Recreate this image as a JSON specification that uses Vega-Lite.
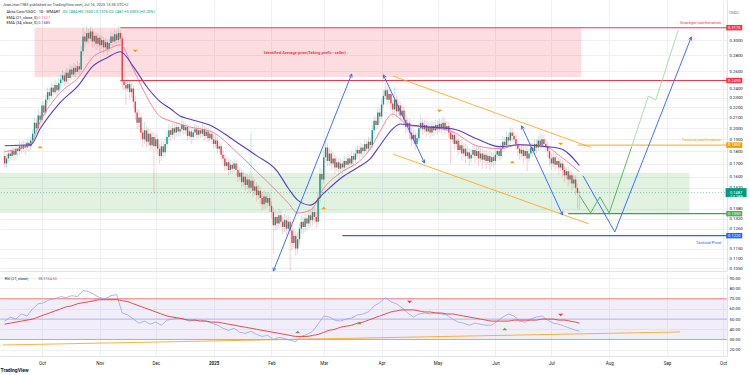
{
"$schema":"https://vega.github.io/schema/vega-lite/v6.json",
"padding":0,
"background":"#ffffff",
"spacing":1,
"config":{"view":{"stroke":null},"font":"Roboto"},
"datasets":{
"candles":[
{"t":"2024-09-11","o":0.176,"h":0.181,"l":0.167,"c":0.170},
{"t":"2024-09-12","o":0.170,"h":0.177,"l":0.166,"c":0.174},
{"t":"2024-09-13","o":0.174,"h":0.181,"l":0.171,"c":0.178},
{"t":"2024-09-14","o":0.178,"h":0.182,"l":0.172,"c":0.176},
{"t":"2024-09-15","o":0.176,"h":0.184,"l":0.173,"c":0.180},
{"t":"2024-09-16","o":0.180,"h":0.183,"l":0.172,"c":0.177},
{"t":"2024-09-17","o":0.177,"h":0.186,"l":0.174,"c":0.182},
{"t":"2024-09-18","o":0.182,"h":0.185,"l":0.175,"c":0.180},
{"t":"2024-09-19","o":0.180,"h":0.189,"l":0.177,"c":0.184},
{"t":"2024-09-20","o":0.184,"h":0.188,"l":0.178,"c":0.182},
{"t":"2024-09-21","o":0.182,"h":0.189,"l":0.179,"c":0.185},
{"t":"2024-09-22","o":0.185,"h":0.188,"l":0.177,"c":0.183},
{"t":"2024-09-23","o":0.183,"h":0.191,"l":0.180,"c":0.187},
{"t":"2024-09-24","o":0.187,"h":0.190,"l":0.179,"c":0.184},
{"t":"2024-09-25","o":0.184,"h":0.192,"l":0.181,"c":0.189},
{"t":"2024-09-26","o":0.189,"h":0.199,"l":0.186,"c":0.195},
{"t":"2024-09-27","o":0.195,"h":0.210,"l":0.192,"c":0.205},
{"t":"2024-09-28","o":0.205,"h":0.209,"l":0.196,"c":0.200},
{"t":"2024-09-29","o":0.200,"h":0.218,"l":0.198,"c":0.212},
{"t":"2024-09-30","o":0.212,"h":0.216,"l":0.201,"c":0.208},
{"t":"2024-10-01","o":0.208,"h":0.226,"l":0.205,"c":0.222},
{"t":"2024-10-02","o":0.222,"h":0.226,"l":0.210,"c":0.215},
{"t":"2024-10-03","o":0.215,"h":0.233,"l":0.212,"c":0.228},
{"t":"2024-10-04","o":0.228,"h":0.241,"l":0.224,"c":0.236},
{"t":"2024-10-05","o":0.236,"h":0.240,"l":0.226,"c":0.232},
{"t":"2024-10-06","o":0.232,"h":0.247,"l":0.229,"c":0.241},
{"t":"2024-10-07","o":0.241,"h":0.245,"l":0.230,"c":0.236},
{"t":"2024-10-08","o":0.236,"h":0.250,"l":0.233,"c":0.244},
{"t":"2024-10-09","o":0.244,"h":0.248,"l":0.232,"c":0.238},
{"t":"2024-10-10","o":0.238,"h":0.252,"l":0.235,"c":0.246},
{"t":"2024-10-11","o":0.246,"h":0.256,"l":0.240,"c":0.250},
{"t":"2024-10-12","o":0.250,"h":0.261,"l":0.246,"c":0.255},
{"t":"2024-10-13","o":0.255,"h":0.259,"l":0.243,"c":0.248},
{"t":"2024-10-14","o":0.248,"h":0.264,"l":0.245,"c":0.258},
{"t":"2024-10-15","o":0.258,"h":0.262,"l":0.245,"c":0.252},
{"t":"2024-10-16","o":0.252,"h":0.268,"l":0.249,"c":0.262},
{"t":"2024-10-17","o":0.262,"h":0.266,"l":0.250,"c":0.256},
{"t":"2024-10-18","o":0.256,"h":0.270,"l":0.253,"c":0.264},
{"t":"2024-10-19","o":0.264,"h":0.268,"l":0.252,"c":0.259},
{"t":"2024-10-20","o":0.259,"h":0.272,"l":0.256,"c":0.266},
{"t":"2024-10-21","o":0.266,"h":0.270,"l":0.255,"c":0.262},
{"t":"2024-10-22","o":0.262,"h":0.292,"l":0.259,"c":0.285},
{"t":"2024-10-23","o":0.285,"h":0.318,"l":0.280,"c":0.305},
{"t":"2024-10-24","o":0.305,"h":0.312,"l":0.290,"c":0.298},
{"t":"2024-10-25","o":0.298,"h":0.320,"l":0.294,"c":0.310},
{"t":"2024-10-26","o":0.310,"h":0.316,"l":0.295,"c":0.302},
{"t":"2024-10-27","o":0.302,"h":0.319,"l":0.298,"c":0.312},
{"t":"2024-10-28","o":0.312,"h":0.316,"l":0.290,"c":0.298},
{"t":"2024-10-29","o":0.298,"h":0.312,"l":0.292,"c":0.306},
{"t":"2024-10-30","o":0.306,"h":0.310,"l":0.287,"c":0.295},
{"t":"2024-10-31","o":0.295,"h":0.309,"l":0.290,"c":0.303},
{"t":"2024-11-01","o":0.303,"h":0.307,"l":0.284,"c":0.293},
{"t":"2024-11-02","o":0.293,"h":0.306,"l":0.288,"c":0.300},
{"t":"2024-11-03","o":0.300,"h":0.304,"l":0.282,"c":0.290},
{"t":"2024-11-04","o":0.290,"h":0.303,"l":0.285,"c":0.297},
{"t":"2024-11-05","o":0.297,"h":0.301,"l":0.280,"c":0.288},
{"t":"2024-11-06","o":0.288,"h":0.302,"l":0.284,"c":0.296},
{"t":"2024-11-07","o":0.296,"h":0.312,"l":0.292,"c":0.305},
{"t":"2024-11-08","o":0.305,"h":0.310,"l":0.291,"c":0.298},
{"t":"2024-11-09","o":0.298,"h":0.315,"l":0.294,"c":0.308},
{"t":"2024-11-10","o":0.308,"h":0.313,"l":0.294,"c":0.300},
{"t":"2024-11-11","o":0.300,"h":0.318,"l":0.296,"c":0.310},
{"t":"2024-11-12","o":0.310,"h":0.314,"l":0.296,"c":0.302},
{"t":"2024-11-13","o":0.302,"h":0.306,"l":0.240,"c":0.248},
{"t":"2024-11-14","o":0.248,"h":0.256,"l":0.238,"c":0.244},
{"t":"2024-11-15","o":0.244,"h":0.250,"l":0.222,"c":0.240},
{"t":"2024-11-16","o":0.240,"h":0.252,"l":0.236,"c":0.245},
{"t":"2024-11-17","o":0.245,"h":0.249,"l":0.228,"c":0.236},
{"t":"2024-11-18","o":0.236,"h":0.246,"l":0.230,"c":0.240},
{"t":"2024-11-19","o":0.240,"h":0.244,"l":0.220,"c":0.226},
{"t":"2024-11-20","o":0.226,"h":0.232,"l":0.208,"c":0.215},
{"t":"2024-11-21","o":0.215,"h":0.219,"l":0.199,"c":0.205},
{"t":"2024-11-22","o":0.205,"h":0.218,"l":0.201,"c":0.210},
{"t":"2024-11-23","o":0.210,"h":0.214,"l":0.190,"c":0.196},
{"t":"2024-11-24","o":0.196,"h":0.200,"l":0.183,"c":0.190},
{"t":"2024-11-25","o":0.190,"h":0.206,"l":0.186,"c":0.198},
{"t":"2024-11-26","o":0.198,"h":0.202,"l":0.183,"c":0.188},
{"t":"2024-11-27","o":0.188,"h":0.200,"l":0.184,"c":0.195},
{"t":"2024-11-28","o":0.195,"h":0.199,"l":0.180,"c":0.185},
{"t":"2024-11-29","o":0.185,"h":0.197,"l":0.181,"c":0.192},
{"t":"2024-11-30","o":0.192,"h":0.196,"l":0.148,"c":0.184},
{"t":"2024-12-01","o":0.184,"h":0.195,"l":0.180,"c":0.190},
{"t":"2024-12-02","o":0.190,"h":0.194,"l":0.177,"c":0.182},
{"t":"2024-12-03","o":0.182,"h":0.186,"l":0.170,"c":0.176},
{"t":"2024-12-04","o":0.176,"h":0.190,"l":0.172,"c":0.184},
{"t":"2024-12-05","o":0.184,"h":0.188,"l":0.175,"c":0.179},
{"t":"2024-12-06","o":0.179,"h":0.191,"l":0.176,"c":0.186},
{"t":"2024-12-07","o":0.186,"h":0.197,"l":0.183,"c":0.192},
{"t":"2024-12-08","o":0.192,"h":0.203,"l":0.189,"c":0.198},
{"t":"2024-12-09","o":0.198,"h":0.202,"l":0.189,"c":0.194},
{"t":"2024-12-10","o":0.194,"h":0.205,"l":0.191,"c":0.200},
{"t":"2024-12-11","o":0.200,"h":0.204,"l":0.190,"c":0.196},
{"t":"2024-12-12","o":0.196,"h":0.206,"l":0.193,"c":0.201},
{"t":"2024-12-13","o":0.201,"h":0.205,"l":0.192,"c":0.197},
{"t":"2024-12-14","o":0.197,"h":0.203,"l":0.193,"c":0.199},
{"t":"2024-12-15","o":0.199,"h":0.209,"l":0.196,"c":0.203},
{"t":"2024-12-16","o":0.203,"h":0.207,"l":0.194,"c":0.198},
{"t":"2024-12-17","o":0.198,"h":0.205,"l":0.195,"c":0.201},
{"t":"2024-12-18","o":0.201,"h":0.204,"l":0.189,"c":0.193},
{"t":"2024-12-19","o":0.193,"h":0.201,"l":0.190,"c":0.197},
{"t":"2024-12-20","o":0.197,"h":0.200,"l":0.186,"c":0.192},
{"t":"2024-12-21","o":0.192,"h":0.200,"l":0.189,"c":0.196},
{"t":"2024-12-22","o":0.196,"h":0.204,"l":0.193,"c":0.199},
{"t":"2024-12-23","o":0.199,"h":0.203,"l":0.190,"c":0.194},
{"t":"2024-12-24","o":0.194,"h":0.202,"l":0.191,"c":0.198},
{"t":"2024-12-25","o":0.198,"h":0.201,"l":0.191,"c":0.195},
{"t":"2024-12-26","o":0.195,"h":0.204,"l":0.192,"c":0.199},
{"t":"2024-12-27","o":0.199,"h":0.202,"l":0.189,"c":0.193},
{"t":"2024-12-28","o":0.193,"h":0.201,"l":0.190,"c":0.197},
{"t":"2024-12-29","o":0.197,"h":0.200,"l":0.187,"c":0.191},
{"t":"2024-12-30","o":0.191,"h":0.199,"l":0.188,"c":0.195},
{"t":"2024-12-31","o":0.195,"h":0.198,"l":0.186,"c":0.190},
{"t":"2025-01-01","o":0.190,"h":0.193,"l":0.182,"c":0.186},
{"t":"2025-01-02","o":0.186,"h":0.194,"l":0.183,"c":0.189},
{"t":"2025-01-03","o":0.189,"h":0.192,"l":0.178,"c":0.182},
{"t":"2025-01-04","o":0.182,"h":0.188,"l":0.179,"c":0.184},
{"t":"2025-01-05","o":0.184,"h":0.187,"l":0.173,"c":0.177},
{"t":"2025-01-06","o":0.177,"h":0.181,"l":0.170,"c":0.174},
{"t":"2025-01-07","o":0.174,"h":0.177,"l":0.164,"c":0.168},
{"t":"2025-01-08","o":0.168,"h":0.175,"l":0.165,"c":0.171},
{"t":"2025-01-09","o":0.171,"h":0.174,"l":0.161,"c":0.165},
{"t":"2025-01-10","o":0.165,"h":0.173,"l":0.162,"c":0.169},
{"t":"2025-01-11","o":0.169,"h":0.172,"l":0.162,"c":0.166},
{"t":"2025-01-12","o":0.166,"h":0.174,"l":0.163,"c":0.170},
{"t":"2025-01-13","o":0.170,"h":0.173,"l":0.161,"c":0.165},
{"t":"2025-01-14","o":0.165,"h":0.168,"l":0.156,"c":0.160},
{"t":"2025-01-15","o":0.160,"h":0.167,"l":0.157,"c":0.163},
{"t":"2025-01-16","o":0.163,"h":0.166,"l":0.152,"c":0.156},
{"t":"2025-01-17","o":0.156,"h":0.164,"l":0.153,"c":0.160},
{"t":"2025-01-18","o":0.160,"h":0.163,"l":0.150,"c":0.154},
{"t":"2025-01-19","o":0.154,"h":0.162,"l":0.151,"c":0.158},
{"t":"2025-01-20","o":0.158,"h":0.161,"l":0.148,"c":0.152},
{"t":"2025-01-21","o":0.152,"h":0.196,"l":0.149,"c":0.157},
{"t":"2025-01-22","o":0.157,"h":0.160,"l":0.146,"c":0.150},
{"t":"2025-01-23","o":0.150,"h":0.158,"l":0.147,"c":0.153},
{"t":"2025-01-24","o":0.153,"h":0.156,"l":0.143,"c":0.147},
{"t":"2025-01-25","o":0.147,"h":0.154,"l":0.144,"c":0.150},
{"t":"2025-01-26","o":0.150,"h":0.153,"l":0.141,"c":0.145},
{"t":"2025-01-27","o":0.145,"h":0.148,"l":0.137,"c":0.141},
{"t":"2025-01-28","o":0.141,"h":0.150,"l":0.138,"c":0.146},
{"t":"2025-01-29","o":0.146,"h":0.149,"l":0.138,"c":0.142},
{"t":"2025-01-30","o":0.142,"h":0.149,"l":0.139,"c":0.145},
{"t":"2025-01-31","o":0.145,"h":0.148,"l":0.136,"c":0.140},
{"t":"2025-02-01","o":0.140,"h":0.143,"l":0.132,"c":0.136},
{"t":"2025-02-02","o":0.136,"h":0.139,"l":0.112,"c":0.128},
{"t":"2025-02-03","o":0.128,"h":0.137,"l":0.125,"c":0.133},
{"t":"2025-02-04","o":0.133,"h":0.136,"l":0.125,"c":0.129},
{"t":"2025-02-05","o":0.129,"h":0.138,"l":0.126,"c":0.134},
{"t":"2025-02-06","o":0.134,"h":0.137,"l":0.127,"c":0.130},
{"t":"2025-02-07","o":0.130,"h":0.133,"l":0.123,"c":0.127},
{"t":"2025-02-08","o":0.127,"h":0.135,"l":0.124,"c":0.131},
{"t":"2025-02-09","o":0.131,"h":0.134,"l":0.122,"c":0.126},
{"t":"2025-02-10","o":0.126,"h":0.134,"l":0.123,"c":0.130},
{"t":"2025-02-11","o":0.130,"h":0.133,"l":0.104,"c":0.125},
{"t":"2025-02-12","o":0.125,"h":0.128,"l":0.114,"c":0.118},
{"t":"2025-02-13","o":0.118,"h":0.126,"l":0.115,"c":0.122},
{"t":"2025-02-14","o":0.122,"h":0.125,"l":0.111,"c":0.115},
{"t":"2025-02-15","o":0.115,"h":0.124,"l":0.112,"c":0.120},
{"t":"2025-02-16","o":0.120,"h":0.129,"l":0.117,"c":0.126},
{"t":"2025-02-17","o":0.126,"h":0.134,"l":0.123,"c":0.130},
{"t":"2025-02-18","o":0.130,"h":0.133,"l":0.123,"c":0.127},
{"t":"2025-02-19","o":0.127,"h":0.135,"l":0.124,"c":0.132},
{"t":"2025-02-20","o":0.132,"h":0.135,"l":0.125,"c":0.129},
{"t":"2025-02-21","o":0.129,"h":0.137,"l":0.126,"c":0.134},
{"t":"2025-02-22","o":0.134,"h":0.137,"l":0.127,"c":0.131},
{"t":"2025-02-23","o":0.131,"h":0.139,"l":0.128,"c":0.136},
{"t":"2025-02-24","o":0.136,"h":0.139,"l":0.129,"c":0.133},
{"t":"2025-02-25","o":0.133,"h":0.136,"l":0.126,"c":0.130},
{"t":"2025-02-26","o":0.130,"h":0.149,"l":0.128,"c":0.145},
{"t":"2025-02-27","o":0.145,"h":0.167,"l":0.142,"c":0.162},
{"t":"2025-02-28","o":0.162,"h":0.166,"l":0.150,"c":0.158},
{"t":"2025-03-01","o":0.158,"h":0.181,"l":0.155,"c":0.175},
{"t":"2025-03-02","o":0.175,"h":0.190,"l":0.171,"c":0.183},
{"t":"2025-03-03","o":0.183,"h":0.187,"l":0.168,"c":0.172},
{"t":"2025-03-04","o":0.172,"h":0.183,"l":0.168,"c":0.178},
{"t":"2025-03-05","o":0.178,"h":0.181,"l":0.165,"c":0.170},
{"t":"2025-03-06","o":0.170,"h":0.179,"l":0.166,"c":0.174},
{"t":"2025-03-07","o":0.174,"h":0.177,"l":0.162,"c":0.167},
{"t":"2025-03-08","o":0.167,"h":0.175,"l":0.164,"c":0.171},
{"t":"2025-03-09","o":0.171,"h":0.174,"l":0.161,"c":0.166},
{"t":"2025-03-10","o":0.166,"h":0.174,"l":0.163,"c":0.170},
{"t":"2025-03-11","o":0.170,"h":0.173,"l":0.162,"c":0.167},
{"t":"2025-03-12","o":0.167,"h":0.176,"l":0.164,"c":0.172},
{"t":"2025-03-13","o":0.172,"h":0.175,"l":0.164,"c":0.169},
{"t":"2025-03-14","o":0.169,"h":0.178,"l":0.166,"c":0.174},
{"t":"2025-03-15","o":0.174,"h":0.177,"l":0.166,"c":0.170},
{"t":"2025-03-16","o":0.170,"h":0.180,"l":0.167,"c":0.176},
{"t":"2025-03-17","o":0.176,"h":0.179,"l":0.169,"c":0.173},
{"t":"2025-03-18","o":0.173,"h":0.182,"l":0.170,"c":0.178},
{"t":"2025-03-19","o":0.178,"h":0.185,"l":0.175,"c":0.181},
{"t":"2025-03-20","o":0.181,"h":0.184,"l":0.173,"c":0.178},
{"t":"2025-03-21","o":0.178,"h":0.187,"l":0.175,"c":0.183},
{"t":"2025-03-22","o":0.183,"h":0.186,"l":0.175,"c":0.180},
{"t":"2025-03-23","o":0.180,"h":0.190,"l":0.177,"c":0.186},
{"t":"2025-03-24","o":0.186,"h":0.189,"l":0.178,"c":0.182},
{"t":"2025-03-25","o":0.182,"h":0.192,"l":0.179,"c":0.188},
{"t":"2025-03-26","o":0.188,"h":0.191,"l":0.180,"c":0.185},
{"t":"2025-03-27","o":0.185,"h":0.203,"l":0.182,"c":0.198},
{"t":"2025-03-28","o":0.198,"h":0.212,"l":0.195,"c":0.207},
{"t":"2025-03-29","o":0.207,"h":0.211,"l":0.198,"c":0.203},
{"t":"2025-03-30","o":0.203,"h":0.220,"l":0.200,"c":0.215},
{"t":"2025-03-31","o":0.215,"h":0.219,"l":0.205,"c":0.211},
{"t":"2025-04-01","o":0.211,"h":0.229,"l":0.208,"c":0.223},
{"t":"2025-04-02","o":0.223,"h":0.238,"l":0.219,"c":0.232},
{"t":"2025-04-03","o":0.232,"h":0.246,"l":0.228,"c":0.238},
{"t":"2025-04-04","o":0.238,"h":0.242,"l":0.222,"c":0.228},
{"t":"2025-04-05","o":0.228,"h":0.240,"l":0.224,"c":0.234},
{"t":"2025-04-06","o":0.234,"h":0.238,"l":0.218,"c":0.224},
{"t":"2025-04-07","o":0.224,"h":0.228,"l":0.210,"c":0.218},
{"t":"2025-04-08","o":0.218,"h":0.242,"l":0.214,"c":0.228},
{"t":"2025-04-09","o":0.228,"h":0.232,"l":0.210,"c":0.216},
{"t":"2025-04-10","o":0.216,"h":0.228,"l":0.212,"c":0.222},
{"t":"2025-04-11","o":0.222,"h":0.226,"l":0.206,"c":0.212},
{"t":"2025-04-12","o":0.212,"h":0.222,"l":0.208,"c":0.217},
{"t":"2025-04-13","o":0.217,"h":0.221,"l":0.202,"c":0.208},
{"t":"2025-04-14","o":0.208,"h":0.212,"l":0.195,"c":0.201},
{"t":"2025-04-15","o":0.201,"h":0.210,"l":0.197,"c":0.205},
{"t":"2025-04-16","o":0.205,"h":0.209,"l":0.190,"c":0.196},
{"t":"2025-04-17","o":0.196,"h":0.200,"l":0.184,"c":0.190},
{"t":"2025-04-18","o":0.190,"h":0.199,"l":0.186,"c":0.194},
{"t":"2025-04-19","o":0.194,"h":0.198,"l":0.181,"c":0.186},
{"t":"2025-04-20","o":0.186,"h":0.196,"l":0.183,"c":0.191},
{"t":"2025-04-21","o":0.191,"h":0.205,"l":0.188,"c":0.200},
{"t":"2025-04-22","o":0.200,"h":0.212,"l":0.197,"c":0.205},
{"t":"2025-04-23","o":0.205,"h":0.209,"l":0.194,"c":0.199},
{"t":"2025-04-24","o":0.199,"h":0.208,"l":0.196,"c":0.203},
{"t":"2025-04-25","o":0.203,"h":0.207,"l":0.192,"c":0.197},
{"t":"2025-04-26","o":0.197,"h":0.206,"l":0.194,"c":0.201},
{"t":"2025-04-27","o":0.201,"h":0.205,"l":0.191,"c":0.196},
{"t":"2025-04-28","o":0.196,"h":0.207,"l":0.193,"c":0.202},
{"t":"2025-04-29","o":0.202,"h":0.206,"l":0.193,"c":0.198},
{"t":"2025-04-30","o":0.198,"h":0.208,"l":0.195,"c":0.203},
{"t":"2025-05-01","o":0.203,"h":0.207,"l":0.194,"c":0.199},
{"t":"2025-05-02","o":0.199,"h":0.209,"l":0.196,"c":0.204},
{"t":"2025-05-03","o":0.204,"h":0.208,"l":0.195,"c":0.200},
{"t":"2025-05-04","o":0.200,"h":0.211,"l":0.197,"c":0.205},
{"t":"2025-05-05","o":0.205,"h":0.209,"l":0.194,"c":0.199},
{"t":"2025-05-06","o":0.199,"h":0.207,"l":0.196,"c":0.202},
{"t":"2025-05-07","o":0.202,"h":0.206,"l":0.191,"c":0.196},
{"t":"2025-05-08","o":0.196,"h":0.200,"l":0.170,"c":0.190},
{"t":"2025-05-09","o":0.190,"h":0.199,"l":0.187,"c":0.194},
{"t":"2025-05-10","o":0.194,"h":0.198,"l":0.181,"c":0.186},
{"t":"2025-05-11","o":0.186,"h":0.194,"l":0.183,"c":0.189},
{"t":"2025-05-12","o":0.189,"h":0.193,"l":0.176,"c":0.181},
{"t":"2025-05-13","o":0.181,"h":0.190,"l":0.178,"c":0.185},
{"t":"2025-05-14","o":0.185,"h":0.189,"l":0.172,"c":0.178},
{"t":"2025-05-15","o":0.178,"h":0.187,"l":0.175,"c":0.182},
{"t":"2025-05-16","o":0.182,"h":0.186,"l":0.170,"c":0.176},
{"t":"2025-05-17","o":0.176,"h":0.184,"l":0.173,"c":0.179},
{"t":"2025-05-18","o":0.179,"h":0.183,"l":0.168,"c":0.174},
{"t":"2025-05-19","o":0.174,"h":0.182,"l":0.171,"c":0.177},
{"t":"2025-05-20","o":0.177,"h":0.186,"l":0.174,"c":0.181},
{"t":"2025-05-21","o":0.181,"h":0.185,"l":0.170,"c":0.176},
{"t":"2025-05-22","o":0.176,"h":0.185,"l":0.173,"c":0.180},
{"t":"2025-05-23","o":0.180,"h":0.184,"l":0.168,"c":0.174},
{"t":"2025-05-24","o":0.174,"h":0.183,"l":0.171,"c":0.178},
{"t":"2025-05-25","o":0.178,"h":0.182,"l":0.166,"c":0.173},
{"t":"2025-05-26","o":0.173,"h":0.181,"l":0.170,"c":0.177},
{"t":"2025-05-27","o":0.177,"h":0.181,"l":0.166,"c":0.172},
{"t":"2025-05-28","o":0.172,"h":0.180,"l":0.169,"c":0.176},
{"t":"2025-05-29","o":0.176,"h":0.180,"l":0.165,"c":0.171},
{"t":"2025-05-30","o":0.171,"h":0.179,"l":0.168,"c":0.175},
{"t":"2025-05-31","o":0.175,"h":0.179,"l":0.167,"c":0.172},
{"t":"2025-06-01","o":0.172,"h":0.181,"l":0.169,"c":0.177},
{"t":"2025-06-02","o":0.177,"h":0.185,"l":0.174,"c":0.180},
{"t":"2025-06-03","o":0.180,"h":0.184,"l":0.172,"c":0.176},
{"t":"2025-06-04","o":0.176,"h":0.187,"l":0.173,"c":0.182},
{"t":"2025-06-05","o":0.182,"h":0.193,"l":0.179,"c":0.188},
{"t":"2025-06-06","o":0.188,"h":0.192,"l":0.180,"c":0.185},
{"t":"2025-06-07","o":0.185,"h":0.197,"l":0.182,"c":0.192},
{"t":"2025-06-08","o":0.192,"h":0.196,"l":0.184,"c":0.189},
{"t":"2025-06-09","o":0.189,"h":0.201,"l":0.186,"c":0.196},
{"t":"2025-06-10","o":0.196,"h":0.200,"l":0.188,"c":0.193},
{"t":"2025-06-11","o":0.193,"h":0.197,"l":0.185,"c":0.190},
{"t":"2025-06-12","o":0.190,"h":0.194,"l":0.181,"c":0.186},
{"t":"2025-06-13","o":0.186,"h":0.190,"l":0.176,"c":0.182},
{"t":"2025-06-14","o":0.182,"h":0.186,"l":0.173,"c":0.178},
{"t":"2025-06-15","o":0.178,"h":0.185,"l":0.175,"c":0.181},
{"t":"2025-06-16","o":0.181,"h":0.185,"l":0.170,"c":0.176},
{"t":"2025-06-17","o":0.176,"h":0.184,"l":0.173,"c":0.180},
{"t":"2025-06-18","o":0.180,"h":0.184,"l":0.164,"c":0.174},
{"t":"2025-06-19","o":0.174,"h":0.182,"l":0.171,"c":0.178},
{"t":"2025-06-20","o":0.178,"h":0.187,"l":0.175,"c":0.183},
{"t":"2025-06-21","o":0.183,"h":0.187,"l":0.175,"c":0.180},
{"t":"2025-06-22","o":0.180,"h":0.190,"l":0.177,"c":0.186},
{"t":"2025-06-23","o":0.186,"h":0.190,"l":0.178,"c":0.183},
{"t":"2025-06-24","o":0.183,"h":0.193,"l":0.180,"c":0.189},
{"t":"2025-06-25","o":0.189,"h":0.196,"l":0.181,"c":0.185},
{"t":"2025-06-26","o":0.185,"h":0.194,"l":0.182,"c":0.190},
{"t":"2025-06-27","o":0.190,"h":0.194,"l":0.182,"c":0.186},
{"t":"2025-06-28","o":0.186,"h":0.190,"l":0.179,"c":0.184},
{"t":"2025-06-29","o":0.184,"h":0.188,"l":0.175,"c":0.180},
{"t":"2025-06-30","o":0.180,"h":0.184,"l":0.168,"c":0.174},
{"t":"2025-07-01","o":0.174,"h":0.178,"l":0.165,"c":0.170},
{"t":"2025-07-02","o":0.170,"h":0.179,"l":0.167,"c":0.175},
{"t":"2025-07-03","o":0.175,"h":0.178,"l":0.164,"c":0.169},
{"t":"2025-07-04","o":0.169,"h":0.176,"l":0.166,"c":0.172},
{"t":"2025-07-05","o":0.172,"h":0.175,"l":0.162,"c":0.167},
{"t":"2025-07-06","o":0.167,"h":0.174,"l":0.164,"c":0.170},
{"t":"2025-07-07","o":0.170,"h":0.173,"l":0.160,"c":0.165},
{"t":"2025-07-08","o":0.165,"h":0.168,"l":0.156,"c":0.161},
{"t":"2025-07-09","o":0.161,"h":0.167,"l":0.158,"c":0.164},
{"t":"2025-07-10","o":0.164,"h":0.167,"l":0.153,"c":0.158},
{"t":"2025-07-11","o":0.158,"h":0.165,"l":0.155,"c":0.161},
{"t":"2025-07-12","o":0.161,"h":0.164,"l":0.150,"c":0.155},
{"t":"2025-07-13","o":0.155,"h":0.161,"l":0.152,"c":0.158},
{"t":"2025-07-14","o":0.158,"h":0.161,"l":0.147,"c":0.152},
{"t":"2025-07-15","o":0.152,"h":0.155,"l":0.138,"c":0.1484},
{"t":"2025-07-16","o":0.1484,"h":0.1500,"l":0.1376,"c":0.1487}
],
"ema":[
{"t":"2024-09-11","a":0.1796,"b":0.1845},
{"t":"2024-09-25","a":0.1862,"b":0.1853},
{"t":"2024-09-30","a":0.2058,"b":0.1994},
{"t":"2024-10-10","a":0.2338,"b":0.2234},
{"t":"2024-10-21","a":0.2538,"b":0.2447},
{"t":"2024-10-28","a":0.2766,"b":0.2655},
{"t":"2024-11-05","a":0.2869,"b":0.2766},
{"t":"2024-11-12","a":0.2935,"b":0.2843},
{"t":"2024-11-19","a":0.2619,"b":0.2655},
{"t":"2024-11-26","a":0.2317,"b":0.2425},
{"t":"2024-12-03","a":0.2115,"b":0.2265},
{"t":"2024-12-09","a":0.2067,"b":0.2184},
{"t":"2024-12-14","a":0.2039,"b":0.2115},
{"t":"2024-12-19","a":0.2012,"b":0.2086},
{"t":"2024-12-31","a":0.1967,"b":0.2021},
{"t":"2025-01-13","a":0.1796,"b":0.1879},
{"t":"2025-01-24","a":0.1639,"b":0.1763},
{"t":"2025-02-04","a":0.1496,"b":0.1642},
{"t":"2025-02-10","a":0.1417,"b":0.1517},
{"t":"2025-02-15","a":0.1354,"b":0.1437},
{"t":"2025-02-22","a":0.1373,"b":0.1404},
{"t":"2025-03-01","a":0.1517,"b":0.1483},
{"t":"2025-03-11","a":0.1639,"b":0.1598},
{"t":"2025-03-20","a":0.1716,"b":0.1677},
{"t":"2025-03-26","a":0.1820,"b":0.1739},
{"t":"2025-03-31","a":0.1967,"b":0.1845},
{"t":"2025-04-07","a":0.2134,"b":0.1994},
{"t":"2025-04-11","a":0.2086,"b":0.2039},
{"t":"2025-04-16","a":0.2021,"b":0.2030},
{"t":"2025-04-25","a":0.2012,"b":0.2012},
{"t":"2025-05-09","a":0.1967,"b":0.1994},
{"t":"2025-05-22","a":0.1845,"b":0.1905},
{"t":"2025-06-03","a":0.1820,"b":0.1837},
{"t":"2025-06-14","a":0.1853,"b":0.1853},
{"t":"2025-06-28","a":0.1837,"b":0.1837},
{"t":"2025-07-06","a":0.1755,"b":0.1820},
{"t":"2025-07-16","a":0.1637,"b":0.1685}
],
"rsi":[
{"t":"2024-09-11","r":48,"m":45},{"t":"2024-09-14","r":52,"m":46},{"t":"2024-09-17","r":50,"m":47},{"t":"2024-09-20","r":55,"m":48},{"t":"2024-09-23","r":53,"m":49},{"t":"2024-09-26","r":60,"m":50},{"t":"2024-09-29","r":65,"m":52},
{"t":"2024-10-02","r":66,"m":54},{"t":"2024-10-05","r":69,"m":56},{"t":"2024-10-08","r":70,"m":58},{"t":"2024-10-11","r":72,"m":60},{"t":"2024-10-14","r":71,"m":62},{"t":"2024-10-17","r":73,"m":63},{"t":"2024-10-20","r":72,"m":65},{"t":"2024-10-23","r":78,"m":66},{"t":"2024-10-26","r":77,"m":67},{"t":"2024-10-29","r":74,"m":68},
{"t":"2024-11-01","r":71,"m":69},{"t":"2024-11-04","r":70,"m":69},{"t":"2024-11-07","r":73,"m":69},{"t":"2024-11-10","r":74,"m":69},{"t":"2024-11-13","r":56,"m":68},{"t":"2024-11-16","r":54,"m":67},{"t":"2024-11-19","r":50,"m":65},{"t":"2024-11-22","r":46,"m":63},{"t":"2024-11-25","r":48,"m":61},{"t":"2024-11-28","r":45,"m":59},
{"t":"2024-12-01","r":47,"m":57},{"t":"2024-12-04","r":44,"m":55},{"t":"2024-12-07","r":49,"m":53},{"t":"2024-12-10","r":50,"m":52},{"t":"2024-12-13","r":51,"m":51},{"t":"2024-12-16","r":50,"m":50},{"t":"2024-12-19","r":48,"m":49},{"t":"2024-12-22","r":49,"m":49},{"t":"2024-12-25","r":49,"m":48},{"t":"2024-12-28","r":48,"m":48},{"t":"2024-12-31","r":46,"m":47},
{"t":"2025-01-03","r":44,"m":47},{"t":"2025-01-06","r":41,"m":46},{"t":"2025-01-09","r":39,"m":45},{"t":"2025-01-12","r":41,"m":44},{"t":"2025-01-15","r":37,"m":43},{"t":"2025-01-18","r":36,"m":42},{"t":"2025-01-21","r":38,"m":41},{"t":"2025-01-24","r":35,"m":40},{"t":"2025-01-27","r":33,"m":39},{"t":"2025-01-30","r":34,"m":38},
{"t":"2025-02-02","r":30,"m":37},{"t":"2025-02-05","r":32,"m":36},{"t":"2025-02-08","r":31,"m":35},{"t":"2025-02-11","r":29,"m":34},{"t":"2025-02-14","r":28,"m":33},{"t":"2025-02-17","r":33,"m":33},{"t":"2025-02-20","r":35,"m":33},{"t":"2025-02-23","r":38,"m":34},{"t":"2025-02-26","r":45,"m":35},
{"t":"2025-03-01","r":53,"m":37},{"t":"2025-03-04","r":52,"m":39},{"t":"2025-03-07","r":49,"m":40},{"t":"2025-03-10","r":48,"m":42},{"t":"2025-03-13","r":50,"m":43},{"t":"2025-03-16","r":51,"m":44},{"t":"2025-03-19","r":54,"m":46},{"t":"2025-03-22","r":55,"m":47},{"t":"2025-03-25","r":57,"m":49},{"t":"2025-03-28","r":63,"m":51},{"t":"2025-03-31","r":66,"m":53},
{"t":"2025-04-03","r":71,"m":55},{"t":"2025-04-06","r":67,"m":57},{"t":"2025-04-09","r":65,"m":58},{"t":"2025-04-12","r":61,"m":59},{"t":"2025-04-15","r":56,"m":59},{"t":"2025-04-18","r":52,"m":59},{"t":"2025-04-21","r":55,"m":58},{"t":"2025-04-24","r":56,"m":57},{"t":"2025-04-27","r":55,"m":57},{"t":"2025-04-30","r":56,"m":56},
{"t":"2025-05-03","r":55,"m":56},{"t":"2025-05-06","r":54,"m":55},{"t":"2025-05-09","r":50,"m":55},{"t":"2025-05-12","r":47,"m":54},{"t":"2025-05-15","r":46,"m":53},{"t":"2025-05-18","r":44,"m":52},{"t":"2025-05-21","r":46,"m":51},{"t":"2025-05-24","r":45,"m":50},{"t":"2025-05-27","r":44,"m":49},{"t":"2025-05-30","r":44,"m":48},
{"t":"2025-06-02","r":48,"m":48},{"t":"2025-06-05","r":52,"m":48},{"t":"2025-06-08","r":55,"m":48},{"t":"2025-06-11","r":53,"m":49},{"t":"2025-06-14","r":48,"m":49},{"t":"2025-06-17","r":47,"m":49},{"t":"2025-06-20","r":50,"m":49},{"t":"2025-06-23","r":52,"m":49},{"t":"2025-06-26","r":53,"m":50},{"t":"2025-06-29","r":49,"m":50},
{"t":"2025-07-02","r":46,"m":50},{"t":"2025-07-05","r":45,"m":49},{"t":"2025-07-08","r":43,"m":49},{"t":"2025-07-11","r":41,"m":48},{"t":"2025-07-14","r":39,"m":47},{"t":"2025-07-16","r":38.31,"m":46}
],
"zones":[
{"k":"r","t":"2024-09-27","t2":"2025-07-17","p":0.3175,"p2":0.2531},
{"k":"g","t":"2024-09-01","t2":"2025-09-13","p":0.1628,"p2":0.1354}
],
"levels":[
{"k":"r","t":"2024-11-12","p":0.3175},
{"k":"r","t":"2024-11-12","p":0.249},
{"k":"b","t":"2025-03-11","p":0.122},
{"k":"g","t":"2025-07-10","p":0.135},
{"k":"o","t":"2025-07-15","p":0.185}
],
"last":[{"t":"2024-09-01","p":0.1487}],
"paths":[
{"g":"a1","i":0,"t":"2025-02-02","p":0.1037},{"g":"a1","i":1,"t":"2025-03-16","p":0.2566},
{"g":"a2","i":0,"t":"2025-04-02","p":0.2555},{"g":"a2","i":1,"t":"2025-04-24","p":0.1704},
{"g":"a3","i":0,"t":"2025-06-15","p":0.2021},{"g":"a3","i":1,"t":"2025-07-07","p":0.1342},
{"g":"a4","i":0,"t":"2025-07-18","p":0.1606},{"g":"a4","i":1,"t":"2025-08-04","p":0.1241},{"g":"a4","i":2,"t":"2025-09-14","p":0.3042},
{"g":"cu","i":0,"t":"2025-04-07","p":0.2543},{"g":"cu","i":1,"t":"2025-07-22","p":0.1832},
{"g":"cl","i":0,"t":"2025-04-07","p":0.1776},{"g":"cl","i":1,"t":"2025-07-21","p":0.1288},
{"g":"zz","i":0,"t":"2025-07-16","p":0.1470},{"g":"zz","i":1,"t":"2025-07-22","p":0.1354},{"g":"zz","i":2,"t":"2025-07-27","p":0.1458},{"g":"zz","i":3,"t":"2025-08-01","p":0.1354},{"g":"zz","i":4,"t":"2025-08-13","p":0.1835},
{"g":"pj","i":0,"t":"2025-08-13","p":0.1835},{"g":"pj","i":1,"t":"2025-08-22","p":0.2319},{"g":"pj","i":2,"t":"2025-08-26","p":0.2277},{"g":"pj","i":3,"t":"2025-09-07","p":0.3142}
],
"heads":[
{"t":"2025-03-16","p":0.2566,"d":"ne"},{"t":"2025-02-02","p":0.1037,"d":"sw"},
{"t":"2025-04-02","p":0.2555,"d":"nw"},{"t":"2025-04-24","p":0.1704,"d":"se"},
{"t":"2025-06-15","p":0.2021,"d":"nw"},{"t":"2025-07-07","p":0.1342,"d":"se"},
{"t":"2025-09-14","p":0.3042,"d":"ne"}
],
"sig":[
{"t":"2024-09-30","p":0.1835,"d":"up"},{"t":"2024-11-20","p":0.2852,"d":"dn"},
{"t":"2025-03-01","p":0.1386,"d":"up"},{"t":"2025-05-02","p":0.2165,"d":"dn"},
{"t":"2025-06-10","p":0.1712,"d":"up"},{"t":"2025-07-06","p":0.1860,"d":"dn"}
],
"hdr":[
{"t":"2024-09-10","p":0.3529,"txt":"JeanJean1983 published on TradingView.com, Jul 16, 2025 13:35 UTC+2","k":"gray"},
{"t":"2024-09-12","p":0.3405,"txt":"Akita Coin/USDC · 1D · WMART","k":"dark"},
{"t":"2024-10-12","p":0.3405,"txt":"O0.1484 H0.1500 L0.1376 C0.1487 +0.0003 (+0.20%)","k":"green"},
{"t":"2024-09-12","p":0.3315,"txt":"EMA (21, close, 0)","k":"dark"},
{"t":"2024-09-29","p":0.3315,"txt":"0.1637","k":"pink"},
{"t":"2024-09-12","p":0.3237,"txt":"EMA (34, close, 0)","k":"dark"},
{"t":"2024-09-29","p":0.3237,"txt":"0.1685","k":"purple"}
],
"notes":[
{"t":"2025-02-19","p":0.2823,"txt":"Identified Average price(Taking profit - seller)"}
],
"rtags":[
{"t":"2025-09-30","p":0.3237,"txt":"Strategic confirmation","k":"r"},
{"t":"2025-09-30","p":0.1895,"txt":"Tactical confirmation","k":"o"},
{"t":"2025-09-30","p":0.1181,"txt":"Tactical Pivot","k":"b"}
],
"tags":[
{"t":"2025-10-07","p":0.3175,"txt":"0.3175","k":"r"},
{"t":"2025-10-07","p":0.249,"txt":"0.2490","k":"r"},
{"t":"2025-10-07","p":0.185,"txt":"0.1850","k":"o"},
{"t":"2025-10-07","p":0.135,"txt":"0.1350","k":"g"},
{"t":"2025-10-07","p":0.122,"txt":"0.1220","k":"b"}
],
"bigtag":[{"t":"2025-10-08","p":0.1487,"txt":"0.1487\n-14.28%"}],
"unit":[{"t":"2025-10-07","p":0.3392,"txt":"USDC"}],
"band":[{"t":"2024-09-01","v":70,"v2":30}],
"rlev":[{"t":"2024-09-01","v":70,"k":"hi"},{"t":"2024-09-01","v":50,"k":"mid"},{"t":"2024-09-01","v":30,"k":"lo"}],
"rtrend":[{"t":"2024-09-10","v":24.6},{"t":"2025-09-08","v":37.4}],
"rsig":[
{"t":"2025-02-15","v":37.4,"d":"up"},{"t":"2025-03-20","v":46.2,"d":"up"},
{"t":"2025-04-16","v":66.8,"d":"dn"},{"t":"2025-06-06","v":40.3,"d":"up"},
{"t":"2025-07-06","v":54.0,"d":"dn"}
],
"rnotes":[
{"t":"2024-09-11","v":89,"txt":"RSI (21, close)","k":"dark"},
{"t":"2024-09-29","v":89,"txt":"38.31","k":"blue"},
{"t":"2024-10-04","v":89,"txt":"64.60","k":"red"}
]
},
"vconcat":[
{
"width":727,"height":271,
"resolve":{"scale":{"color":"independent"}},
"encoding":{
"x":{"field":"t","type":"temporal","title":null,
"scale":{"type":"utc","domain":[{"year":2024,"month":9,"date":8,"hours":12,"utc":true},{"year":2025,"month":10,"date":3,"hours":3,"utc":true}]},
"axis":{"labels":false,"ticks":false,"domain":true,"domainColor":"#e0e3eb","grid":true,"gridColor":"#eef0f4","title":null,
"values":[{"year":2024,"month":10,"date":1,"utc":true},{"year":2024,"month":11,"date":1,"utc":true},{"year":2024,"month":12,"date":1,"utc":true},{"year":2025,"month":1,"date":1,"utc":true},{"year":2025,"month":2,"date":1,"utc":true},{"year":2025,"month":3,"date":1,"utc":true},{"year":2025,"month":4,"date":1,"utc":true},{"year":2025,"month":5,"date":1,"utc":true},{"year":2025,"month":6,"date":1,"utc":true},{"year":2025,"month":7,"date":1,"utc":true},{"year":2025,"month":8,"date":1,"utc":true},{"year":2025,"month":9,"date":1,"utc":true},{"year":2025,"month":10,"date":1,"utc":true}]}},
"y":{"field":"p","type":"quantitative","title":null,
"scale":{"type":"log","domain":[0.1037,0.3606],"nice":false,"zero":false},
"axis":{"orient":"right","title":null,"values":[0.3,0.28,0.26,0.24,0.23,0.22,0.21,0.2,0.19,0.18,0.17,0.16,0.152,0.138,0.132,0.126,0.115,0.11,0.105],"format":".4f","labelFontSize":4.3,"labelColor":"#131722","labelPadding":2,"ticks":false,"domain":true,"domainColor":"#e0e3eb","grid":true,"gridColor":"#eef0f4"}}
},
"layer":[
{"data":{"name":"zones"},"mark":{"type":"rect","clip":true},
 "encoding":{"x2":{"field":"t2"},"y2":{"field":"p2"},
 "color":{"field":"k","type":"nominal","scale":{"domain":["r","g"],"range":["#f23645","#4caf50"]},"legend":null},
 "opacity":{"value":0.17}}},
{"data":{"name":"last"},"mark":{"type":"rule","clip":true,"color":"#089981","strokeDash":[1,2],"strokeWidth":0.8,"opacity":0.6},
 "encoding":{"x2":{"datum":{"year":2025,"month":10,"date":10,"utc":true}}}},
{"data":{"name":"candles"},"mark":{"type":"rule","strokeWidth":0.7,"opacity":0.35},
 "encoding":{"y":{"field":"h","type":"quantitative","title":null,"scale":{"type":"log","domain":[0.1037,0.3606],"nice":false,"zero":false}},"y2":{"field":"l"},
 "color":{"condition":{"test":"datum.c >= datum.o","value":"#089981"},"value":"#f23645"}}},
{"data":{"name":"candles"},"mark":{"type":"rule","strokeWidth":1.4},
 "encoding":{"y":{"field":"o","type":"quantitative","title":null,"scale":{"type":"log","domain":[0.1037,0.3606],"nice":false,"zero":false}},"y2":{"field":"c"},
 "color":{"condition":{"test":"datum.c >= datum.o","value":"#089981"},"value":"#f23645"}}},
{"data":{"name":"ema"},"mark":{"type":"line","color":"#f2789a","strokeWidth":0.9,"interpolate":"monotone"},
 "encoding":{"y":{"field":"a","type":"quantitative","title":null,"scale":{"type":"log","domain":[0.1037,0.3606],"nice":false,"zero":false}}}},
{"data":{"name":"ema"},"mark":{"type":"line","color":"#5b3cc4","strokeWidth":1.1,"interpolate":"monotone"},
 "encoding":{"y":{"field":"b","type":"quantitative","title":null,"scale":{"type":"log","domain":[0.1037,0.3606],"nice":false,"zero":false}}}},
{"data":{"name":"levels"},"mark":{"type":"rule","clip":true,"strokeWidth":1.1},
 "encoding":{"x2":{"datum":{"year":2025,"month":10,"date":10,"utc":true}},
 "color":{"field":"k","type":"nominal","scale":{"domain":["r","b","g","o"],"range":["#f23645","#2962ff","#43a047","#ffb74d"]},"legend":null}}},
{"data":{"name":"paths"},"mark":{"type":"line","clip":true,"strokeWidth":0.9},
 "encoding":{"order":{"field":"i","type":"quantitative"},
 "color":{"field":"g","type":"nominal","scale":{"domain":["a1","a2","a3","a4","cu","cl","zz","pj"],"range":["#2962ff","#2962ff","#2962ff","#2962ff","#ffa726","#ffa726","#4caf50","#a5d6a7"]},"legend":null}}},
{"data":{"name":"heads"},"transform":[{"filter":"datum.d == 'ne'"}],"mark":{"type":"point","shape":"M-0.8,1.6L0,0L0.8,1.6","filled":false,"color":"#2962ff","strokeWidth":0.8,"size":16,"angle":21,"opacity":1}},
{"data":{"name":"heads"},"transform":[{"filter":"datum.d == 'sw'"}],"mark":{"type":"point","shape":"M-0.8,1.6L0,0L0.8,1.6","filled":false,"color":"#2962ff","strokeWidth":0.8,"size":16,"angle":201,"opacity":1}},
{"data":{"name":"heads"},"transform":[{"filter":"datum.d == 'nw'"}],"mark":{"type":"point","shape":"M-0.8,1.6L0,0L0.8,1.6","filled":false,"color":"#2962ff","strokeWidth":0.8,"size":16,"angle":335,"opacity":1}},
{"data":{"name":"heads"},"transform":[{"filter":"datum.d == 'se'"}],"mark":{"type":"point","shape":"M-0.8,1.6L0,0L0.8,1.6","filled":false,"color":"#2962ff","strokeWidth":0.8,"size":16,"angle":155,"opacity":1}},
{"data":{"name":"sig"},"transform":[{"filter":"datum.d == 'up'"}],"mark":{"type":"point","shape":"M-1,0.5L0,-0.5L1,0.5Z","filled":true,"color":"#ff9800","size":25,"opacity":1}},
{"data":{"name":"sig"},"transform":[{"filter":"datum.d == 'dn'"}],"mark":{"type":"point","shape":"M-1,-0.5L0,0.5L1,-0.5Z","filled":true,"color":"#ff9800","size":25,"opacity":1}},
{"data":{"name":"hdr"},"mark":{"type":"text","align":"left","baseline":"middle","fontSize":3.9},
 "encoding":{"text":{"field":"txt"},
 "color":{"field":"k","type":"nominal","scale":{"domain":["gray","dark","green","pink","purple"],"range":["#434651","#131722","#089981","#f2789a","#5b3cc4"]},"legend":null}}},
{"data":{"name":"notes"},"mark":{"type":"text","align":"center","baseline":"middle","fontSize":4,"fontWeight":"bold","color":"#f23645"},
 "encoding":{"text":{"field":"txt"}}},
{"data":{"name":"rtags"},"mark":{"type":"text","align":"right","baseline":"middle","fontSize":4.2},
 "encoding":{"text":{"field":"txt"},
 "color":{"field":"k","type":"nominal","scale":{"domain":["r","o","b"],"range":["#f23645","#ff9800","#2962ff"]},"legend":null}}},
{"data":{"name":"tags"},"mark":{"type":"point","shape":"M-1,-0.34H1V0.34H-1Z","filled":true,"size":256,"opacity":1},
 "encoding":{"color":{"field":"k","type":"nominal","scale":{"domain":["r","o","g","b"],"range":["#f23645","#ff9800","#4caf50","#2962ff"]},"legend":null}}},
{"data":{"name":"tags"},"mark":{"type":"text","align":"center","baseline":"middle","fontSize":4,"color":"#ffffff"},
 "encoding":{"text":{"field":"txt"}}},
{"data":{"name":"bigtag"},"mark":{"type":"point","shape":"M-1,-0.43H1V0.43H-1Z","filled":true,"size":441,"opacity":1,"color":"#089981"}},
{"data":{"name":"bigtag"},"mark":{"type":"text","align":"center","baseline":"middle","fontSize":4,"color":"#ffffff","lineBreak":"\n","lineHeight":4.6},
 "encoding":{"text":{"field":"txt"}}},
{"data":{"name":"unit"},"mark":{"type":"text","align":"center","baseline":"middle","fontSize":4,"color":"#6a6d78"},
 "encoding":{"text":{"field":"txt"}}}
]
},
{
"width":727,"height":82,
"resolve":{"scale":{"color":"independent"}},
"encoding":{
"x":{"field":"t","type":"temporal","title":null,
"scale":{"type":"utc","domain":[{"year":2024,"month":9,"date":8,"hours":12,"utc":true},{"year":2025,"month":10,"date":3,"hours":3,"utc":true}]},
"axis":{"title":"TradingView","titleAnchor":"start","titleAlign":"left","titleFontSize":5,"titleFontWeight":"bold","titleColor":"#131722","titlePadding":3,
"labelExpr":"utcmonth(datum.value) == 0 ? utcFormat(datum.value, '%Y') : utcFormat(datum.value, '%b')",
"labelFontWeight":{"condition":{"test":"utcmonth(datum.value) == 0","value":"bold"},"value":"normal"},
"labelFontSize":4.5,"labelColor":"#131722","labelPadding":4,"ticks":false,"domain":true,"domainColor":"#e0e3eb","grid":true,"gridColor":"#eef0f4",
"values":[{"year":2024,"month":10,"date":1,"utc":true},{"year":2024,"month":11,"date":1,"utc":true},{"year":2024,"month":12,"date":1,"utc":true},{"year":2025,"month":1,"date":1,"utc":true},{"year":2025,"month":2,"date":1,"utc":true},{"year":2025,"month":3,"date":1,"utc":true},{"year":2025,"month":4,"date":1,"utc":true},{"year":2025,"month":5,"date":1,"utc":true},{"year":2025,"month":6,"date":1,"utc":true},{"year":2025,"month":7,"date":1,"utc":true},{"year":2025,"month":8,"date":1,"utc":true},{"year":2025,"month":9,"date":1,"utc":true},{"year":2025,"month":10,"date":1,"utc":true}]}},
"y":{"field":"v","type":"quantitative","title":null,
"scale":{"domain":[13.8,94.2],"nice":false,"zero":false},
"axis":{"orient":"right","title":null,"values":[90,80,70,60,50,40,30,20],"format":".2f","labelFontSize":4.3,"labelColor":"#131722","labelPadding":2,"ticks":false,"domain":true,"domainColor":"#e0e3eb","grid":true,"gridColor":"#eef0f4"}}
},
"layer":[
{"data":{"name":"band"},"mark":{"type":"rect","clip":true,"color":"#9575cd","opacity":0.12},
 "encoding":{"x2":{"datum":{"year":2025,"month":10,"date":10,"utc":true}},"y2":{"field":"v2"}}},
{"data":{"name":"rlev"},"mark":{"type":"rule","clip":true,"strokeWidth":0.9},
 "encoding":{"x2":{"datum":{"year":2025,"month":10,"date":10,"utc":true}},
 "color":{"field":"k","type":"nominal","scale":{"domain":["hi","mid","lo"],"range":["#f77c80","#a9b4ee","#81c784"]},"legend":null}}},
{"data":{"name":"rtrend"},"mark":{"type":"line","color":"#ffa726","strokeWidth":0.9,"clip":true}},
{"data":{"name":"rsi"},"mark":{"type":"line","color":"#97a3ec","strokeWidth":0.8},
 "encoding":{"y":{"field":"r","type":"quantitative","title":null,"scale":{"domain":[13.8,94.2],"nice":false,"zero":false}}}},
{"data":{"name":"rsi"},"mark":{"type":"line","color":"#e53935","strokeWidth":0.9,"interpolate":"monotone"},
 "encoding":{"y":{"field":"m","type":"quantitative","title":null,"scale":{"domain":[13.8,94.2],"nice":false,"zero":false}}}},
{"data":{"name":"rsig"},"transform":[{"filter":"datum.d == 'up'"}],"mark":{"type":"point","shape":"M-1,0.5L0,-0.5L1,0.5Z","filled":true,"color":"#4caf50","size":25,"opacity":1}},
{"data":{"name":"rsig"},"transform":[{"filter":"datum.d == 'dn'"}],"mark":{"type":"point","shape":"M-1,-0.5L0,0.5L1,-0.5Z","filled":true,"color":"#f23645","size":25,"opacity":1}},
{"data":{"name":"rnotes"},"mark":{"type":"text","align":"left","baseline":"middle","fontSize":3.7},
 "encoding":{"text":{"field":"txt"},
 "color":{"field":"k","type":"nominal","scale":{"domain":["dark","blue","red"],"range":["#131722","#5c6bc0","#f23645"]},"legend":null}}}
]
}
]
}
